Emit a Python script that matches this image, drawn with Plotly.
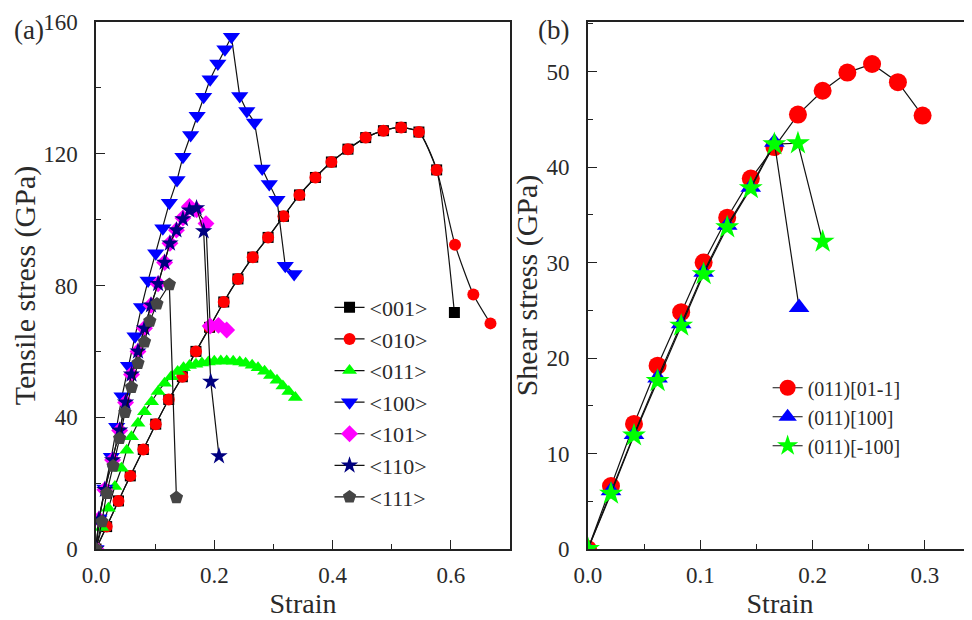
import plotly.graph_objects as go

# ---------------- Panel (a): tensile stress vs strain ----------------
a001_x = [0, 0.018, 0.038, 0.058, 0.080, 0.101, 0.123, 0.146, 0.169, 0.192, 0.216, 0.240,
          0.265, 0.291, 0.317, 0.344, 0.371, 0.398, 0.426, 0.456, 0.486, 0.516, 0.546, 0.576, 0.606]
a001_y = [0, 6.8, 14.6, 22.2, 30.2, 37.9, 45.4, 52.3, 60.0, 67.3, 75.0, 82.0,
          88.6, 94.6, 101.0, 107.5, 112.8, 117.5, 121.4, 124.9, 127.0, 128.0, 126.6, 115.1, 71.8]

a010_x = [0, 0.018, 0.038, 0.058, 0.080, 0.101, 0.123, 0.146, 0.169, 0.192, 0.216, 0.240,
          0.265, 0.291, 0.317, 0.344, 0.371, 0.398, 0.426, 0.456, 0.486, 0.516, 0.546, 0.576,
          0.607, 0.638, 0.667]
a010_y = [0, 6.8, 14.6, 22.2, 30.2, 37.9, 45.4, 52.3, 60.0, 67.3, 75.0, 82.0,
          88.6, 94.6, 101.0, 107.5, 112.8, 117.5, 121.4, 124.9, 127.0, 128.0, 126.6, 115.1,
          92.4, 77.3, 68.5]

a011_x = [0, 0.010, 0.021, 0.032, 0.043, 0.052, 0.060, 0.071, 0.082, 0.094, 0.105, 0.116,
          0.127, 0.138, 0.148, 0.158, 0.169, 0.179, 0.190, 0.200, 0.211, 0.221, 0.232, 0.243,
          0.253, 0.264, 0.274, 0.285, 0.295, 0.306, 0.316, 0.326, 0.337]
a011_y = [0, 6.5, 12.4, 19.0, 24.5, 30.0, 34.1, 38.2, 41.7, 44.7, 47.8, 50.3,
          52.3, 53.9, 55.0, 55.7, 56.1, 56.5, 56.8, 57.0, 57.1, 57.1, 57.0, 56.8,
          56.4, 55.8, 55.0, 54.0, 52.7, 51.2, 49.5, 47.8, 46.0]

a100_x = [0, 0.005, 0.015, 0.026, 0.035, 0.044, 0.055, 0.066, 0.077, 0.088, 0.101, 0.113,
          0.124, 0.137, 0.147, 0.160, 0.171, 0.182, 0.193, 0.206, 0.218, 0.229, 0.243, 0.255,
          0.268, 0.281, 0.293, 0.306, 0.320, 0.335]
a100_y = [0, 9.3, 18.4, 28.0, 37.1, 46.4, 55.6, 64.6, 73.5, 81.5, 89.8, 97.4,
          105.1, 112.0, 119.1, 125.7, 131.5, 137.3, 142.6, 147.4, 151.7, 155.5, 137.5, 133.0,
          129.5, 115.5, 110.8, 106.0, 86.0, 83.5]

a101_x = [0, 0.005, 0.015, 0.028, 0.040, 0.050, 0.060, 0.071, 0.082, 0.093, 0.105, 0.116,
          0.125, 0.136, 0.147, 0.158, 0.170, 0.186, 0.193, 0.207, 0.221]
a101_y = [0, 9.0, 18.0, 27.0, 36.0, 44.5, 53.0, 60.0, 67.0, 74.0, 80.5, 87.0,
          92.8, 96.8, 100.5, 104.0, 103.0, 98.8, 67.7, 67.9, 66.5]

a110_x = [0, 0.005, 0.015, 0.028, 0.040, 0.050, 0.060, 0.071, 0.082, 0.093, 0.105, 0.116,
          0.125, 0.136, 0.147, 0.158, 0.170, 0.182, 0.194, 0.208]
a110_y = [0, 9.0, 18.0, 27.0, 36.0, 44.5, 53.0, 60.0, 67.0, 74.0, 80.5, 87.0,
          92.8, 96.8, 100.2, 102.8, 103.5, 96.5, 50.8, 28.2]

a111_x = [0, 0.010, 0.018, 0.029, 0.040, 0.049, 0.060, 0.071, 0.082, 0.091, 0.103, 0.124, 0.136]
a111_y = [0, 8.3, 16.9, 25.2, 33.6, 41.5, 49.1, 56.4, 62.9, 69.2, 74.4, 80.3, 15.6]

# ---------------- Panel (b): shear stress vs strain ----------------
b01m1_x = [0, 0.0205, 0.041, 0.062, 0.083, 0.103, 0.124, 0.145, 0.166, 0.187, 0.209, 0.231,
           0.253, 0.276, 0.298]
b01m1_y = [0, 6.6, 13.1, 19.2, 24.8, 30.0, 34.7, 38.8, 42.1, 45.5, 48.0, 49.9,
           50.8, 48.9, 45.4]
b100_x = [0, 0.0205, 0.041, 0.062, 0.083, 0.103, 0.124, 0.145, 0.166, 0.188]
b100_y = [0, 6.1, 12.0, 17.9, 23.6, 29.0, 33.9, 37.9, 42.6, 25.3]
bm100_x = [0, 0.0205, 0.041, 0.062, 0.083, 0.103, 0.124, 0.145, 0.166, 0.187, 0.209]
bm100_y = [0, 5.8, 11.9, 17.6, 23.4, 28.8, 33.7, 37.8, 42.4, 42.5, 32.2]

labels_a = ["<001>", "<010>", "<011>", "<100>", "<101>", "<110>", "<111>"]
labels_b = ["(011)[01-1]", "(011)[100]", "(011)[-100]"]

FONT = "'Liberation Serif', 'Times New Roman', 'DejaVu Serif', serif"
TXT = "#2a2a2a"

fig = go.Figure()

series_a = [
    (a001_x, a001_y, labels_a[0], "square", "#000000", 11, "spline"),
    (a010_x, a010_y, labels_a[1], "circle", "#ff0000", 12, "spline"),
    (a011_x, a011_y, labels_a[2], "triangle-up", "#00ff00", 13, "spline"),
    (a100_x, a100_y, labels_a[3], "triangle-down", "#0000ff", 15, "linear"),
    (a101_x, a101_y, labels_a[4], "diamond", "#ff00ff", 13, "linear"),
    (a110_x, a110_y, labels_a[5], "star", "#000080", 13, "linear"),
    (a111_x, a111_y, labels_a[6], "pentagon", "#454545", 14, "linear"),
]
for xs, ys, name, sym, col, sz, shape in series_a:
    fig.add_trace(go.Scatter(
        x=xs, y=ys, name=name, mode="lines+markers",
        line=dict(color="#111111", width=1.2, shape=shape, smoothing=0.6),
        marker=dict(symbol=sym, color=col, size=sz, line=dict(width=0)),
        xaxis="x", yaxis="y", legend="legend"))

series_b = [
    (b01m1_x, b01m1_y, labels_b[0], "circle", "#ff0000", 18),
    (b100_x, b100_y, labels_b[1], "triangle-up", "#0000ff", 18),
    (bm100_x, bm100_y, labels_b[2], "star", "#00ff00", 18),
]
for xs, ys, name, sym, col, sz in series_b:
    fig.add_trace(go.Scatter(
        x=xs, y=ys, name=name, mode="lines+markers",
        line=dict(color="#111111", width=1.2),
        marker=dict(symbol=sym, color=col, size=sz, line=dict(width=0)),
        xaxis="x2", yaxis="y2", legend="legend2"))

axis_common = dict(
    showline=True, linecolor="#222222", linewidth=1.5,
    showgrid=False, zeroline=False, automargin=False,
    ticks="inside", ticklen=9, tickwidth=1.3, tickcolor="#222222",
    tickfont=dict(family=FONT, size=23, color=TXT),
)
xtitle_font = dict(family=FONT, size=28, color=TXT)
ytitle_font = dict(family=FONT, size=30, color=TXT)

# the page body adds an 8px offset, so the figure is 964x612 with margins shifted accordingly
fig.update_layout(
    width=964, height=612,
    margin=dict(l=88, r=0, t=14, b=71),
    paper_bgcolor="white", plot_bgcolor="white",
    showlegend=True,
    xaxis=dict(domain=[0, 0.4726], range=[0, 0.7], tick0=0, dtick=0.2, tickformat=".1f",
               mirror=True, anchor="y", ticklabelstandoff=5,
               minor=dict(dtick=0.1, ticks="inside", ticklen=5, tickcolor="#222222"),
               title=dict(text="Strain", standoff=3, font=xtitle_font), **axis_common),
    yaxis=dict(domain=[0, 1], range=[0, 160], tick0=0, dtick=40, mirror=True, anchor="x",
               ticklabelstandoff=12,
               minor=dict(dtick=20, ticks="inside", ticklen=5, tickcolor="#222222"),
               title=dict(text="Tensile stress (GPa)", standoff=0, font=ytitle_font), **axis_common),
    xaxis2=dict(domain=[0.5616, 1], range=[0, 0.342], tick0=0, dtick=0.1, tickformat=".1f",
                mirror=True, anchor="y2", ticklabelstandoff=5,
                minor=dict(dtick=0.05, ticks="inside", ticklen=5, tickcolor="#222222"),
                title=dict(text="Strain", standoff=3, font=xtitle_font), **axis_common),
    yaxis2=dict(domain=[0, 1], range=[0, 55.2], tick0=0, dtick=10, mirror=False, anchor="x2",
                ticklabelstandoff=12,
                minor=dict(dtick=5, ticks="inside", ticklen=5, tickcolor="#222222"),
                title=dict(text="Shear stress (GPa)", standoff=0, font=ytitle_font), **axis_common),
    legend=dict(x=0.2666, y=0.498, xanchor="left", yanchor="top",
                bgcolor="rgba(0,0,0,0)", font=dict(family=FONT, size=22, color=TXT),
                tracegroupgap=0, itemsizing="trace"),
    legend2=dict(x=0.7667, y=0.343, xanchor="left", yanchor="top",
                 bgcolor="rgba(0,0,0,0)", font=dict(family=FONT, size=20, color=TXT),
                 tracegroupgap=0, itemsizing="trace"),
    annotations=[
        dict(text="(a)", xref="paper", yref="paper", x=-0.076, y=0.985,
             xanchor="center", yanchor="middle", showarrow=False,
             font=dict(family=FONT, size=27, color=TXT)),
        dict(text="(b)", xref="paper", yref="paper", x=0.522, y=0.985,
             xanchor="center", yanchor="middle", showarrow=False,
             font=dict(family=FONT, size=27, color=TXT)),
    ],
)

fig.write_html("out.html")
